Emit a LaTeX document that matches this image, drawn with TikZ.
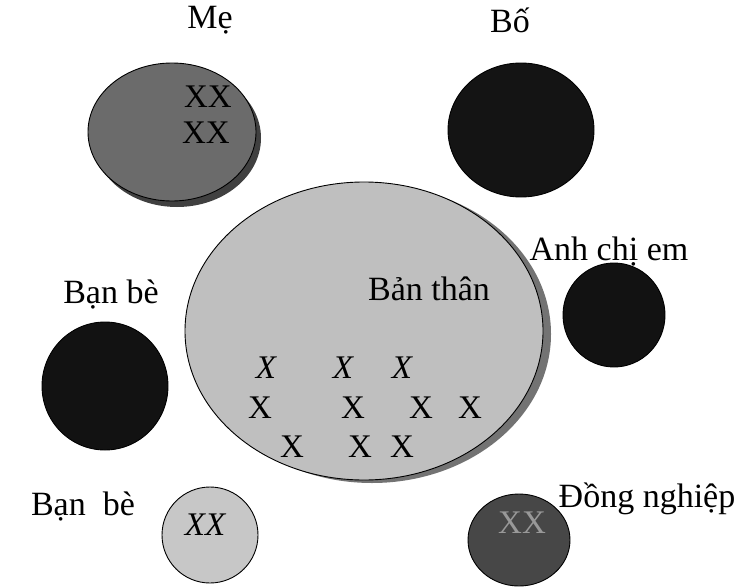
\documentclass[tikz,border=0pt]{standalone}
\usepackage{fontspec}
\setmainfont{Liberation Serif}
\usetikzlibrary{shapes.geometric}

\begin{document}
\begin{tikzpicture}[x=1pt,y=-1pt,
  disc/.style={ellipse,draw=black,line width=0.9pt,inner sep=0pt},
  rim/.style={ellipse,fill=black!55,inner sep=0pt},
  lbl/.style={anchor=base,font=\fontsize{34}{38}\selectfont},
  xmark/.style={anchor=base,font=\fontsize{33}{36}\selectfont}]
  \useasboundingbox (0,0) rectangle (746,586);

  % circles
  \node[rim,minimum width=358pt,minimum height=298pt] (selfrim) at (372,334) {};
  \node[disc,fill=black!25,minimum width=358pt,minimum height=298pt] (self) at (364,331) {};
  \node[rim,fill=black!75,minimum width=168pt,minimum height=138pt] (merim) at (177,138) {};
  \node[disc,fill=black!58,minimum width=168pt,minimum height=138pt] (me) at (172,132) {};
  \node[disc,fill=black!92,minimum width=146pt,minimum height=134pt] (bo) at (521,130) {};
  \node[disc,fill=black!93,minimum width=102pt,minimum height=104pt] (sib) at (614,315) {};
  \node[disc,fill=black!93,minimum width=126pt,minimum height=128pt] (friend) at (105,386) {};
  \node[disc,fill=black!22,minimum width=96pt,minimum height=96pt] (friendb) at (210,535) {};
  \node[disc,fill=black!72,minimum width=102pt,minimum height=92pt] (cowork) at (519,540) {};

  % labels
  \node[lbl] (lme) at (210,29) {Mẹ};
  \node[lbl] (lbo) at (510,33) {Bố};
  \node[lbl] (lsib) at (609,260) {Anh chị em};
  \node[lbl] (lfriend) at (111,303) {Bạn bè};
  \node[lbl] (lfriendb) at (83,515) {Bạn\ \ bè};
  \node[lbl] (lcowork) at (647,507) {Đồng nghiệp};
  \node[lbl] (lself) at (429,300) {Bản thân};

  % marks
  \node[xmark] (me1) at (208,107) {XX};
  \node[xmark] (me2) at (206,143) {XX};
  \node[xmark] (fb) at (205,535) {\itshape XX};
  \node[xmark,text=black!40] (cw) at (522,533) {XX};
  \foreach \x in {266,343,402}
    \node[xmark] at (\x,378) {\itshape X};
  \foreach \x in {260,353,421,470}
    \node[xmark] at (\x,418) {X};
  \foreach \x in {292,360,402}
    \node[xmark] at (\x,457) {X};
\end{tikzpicture}
\end{document}
